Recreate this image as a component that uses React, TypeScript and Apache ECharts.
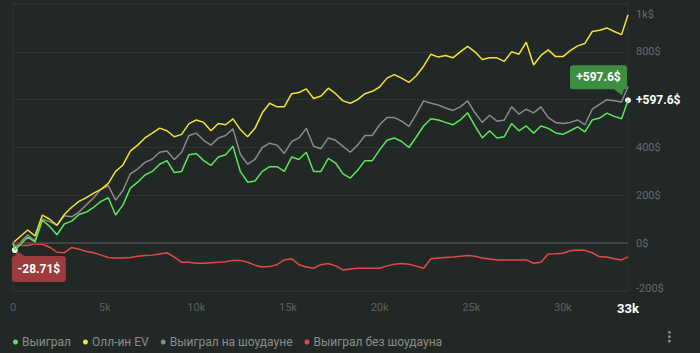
import React, { useEffect, useRef } from "react";
import * as echarts from "echarts";

// x sampling (hands)
const hands: number[] = [0, 100];
for (let k = 2; k <= 83; k++) hands.push(k * 400);
hands.push(33550);

const xMax = 33550;

const won: number[] = [
  0, -28.71, 25, 5, 96, 70, 35, 80, 92, 120,
  130, 150, 175, 190, 118, 160, 230, 255, 285, 300,
  330, 345, 295, 300, 370, 375, 345, 325, 360, 370,
  405, 300, 255, 260, 300, 320, 320, 300, 360, 350,
  380, 300, 300, 355, 335, 290, 272, 305, 345, 345,
  390, 430, 440, 425, 400, 444, 490, 520, 515, 505,
  495, 515, 545, 490, 440, 470, 440, 445, 500, 470,
  490, 460, 490, 480, 461, 455, 470, 486, 465, 515,
  523, 544, 530, 520, 597.6,
];

const showdown: number[] = [
  0, -20, 35, 10, 100, 90, 75, 115, 110, 130,
  160, 190, 225, 240, 180, 220, 290, 310, 338, 352,
  380, 385, 350, 380, 450, 460, 430, 410, 440, 450,
  478, 372, 330, 350, 400, 418, 410, 375, 425, 440,
  480, 405, 395, 440, 430, 405, 380, 410, 450, 450,
  495, 525, 525, 510, 488, 540, 595, 585, 578, 565,
  555, 570, 595, 545, 505, 535, 510, 515, 570, 540,
  560, 545, 570, 525, 505, 500, 505, 515, 495, 560,
  580, 600, 595, 590, 655,
];

const allinEV: number[] = [
  0, 8, 55, 30, 117, 100, 75, 120, 150, 175,
  190, 209, 225, 250, 300, 327, 385, 410, 440, 460,
  481, 470, 445, 455, 500, 515, 505, 470, 500, 495,
  520, 475, 445, 480, 545, 585, 570, 570, 625, 630,
  645, 605, 615, 648, 625, 595, 585, 600, 625, 635,
  653, 690, 705, 690, 672, 700, 740, 790, 778, 785,
  775, 800, 823, 800, 768, 775, 775, 760, 800, 790,
  840, 745, 785, 808, 780, 780, 805, 825, 835, 885,
  890, 900, 885, 872, 955,
];

const nonShowdown: number[] = [
  0, -8.7, -10, -3, -5, -17, -38, -40, -18, -25,
  -35, -40, -50, -60, -62, -62, -60, -55, -52, -50,
  -45, -40, -58, -80, -80, -84, -84, -82, -80, -78,
  -72, -72, -80, -92, -100, -98, -90, -70, -65, -90,
  -100, -105, -90, -85, -95, -112, -108, -105, -105, -105,
  -105, -95, -88, -85, -88, -96, -105, -65, -62, -60,
  -58, -55, -52, -55, -62, -66, -70, -70, -70, -70,
  -70, -84, -80, -45, -44, -42, -32, -29, -30, -40,
  -57, -58, -65, -70, -57.4,
];

const seriesNames = ["Выиграл", "Олл-ин EV", "Выиграл на шоудауне", "Выиграл без шоудауна"];
const seriesColors = ["#5ae85a", "#f3e23c", "#8a8a8a", "#e3484b"];

const finalLabel = "+597.6$";
const minLabel = "-28.71$";

const pair = (vals: number[]) => vals.map((v, i) => [hands[i], v]);

const greenBox =
  "path://M3,0 H54 Q57,0 57,3 V21 Q57,24 54,24 L52,30 L44,24 H3 Q0,24 0,21 V3 Q0,0 3,0 Z";
const redBox =
  "path://M3,5 L5,0 L13,5 H51 Q54,5 54,8 V28 Q54,31 51,31 H3 Q0,31 0,28 V8 Q0,5 3,5 Z";

export default function App() {
  const ref = useRef<HTMLDivElement>(null);
  useEffect(() => {
    if (!ref.current) return;
    const chart = echarts.init(ref.current, undefined, { renderer: "svg" });
    const font = "Roboto, 'Open Sans', sans-serif";
    const lastX = hands[hands.length - 1];
    const lastV = won[won.length - 1];
    const option: any = {
      animation: false,
      backgroundColor: "#222826",
      textStyle: { fontFamily: font },
      grid: {
        left: 13,
        right: 72,
        top: 4,
        bottom: 62,
        show: true,
        borderColor: "#2d3330",
        borderWidth: 1,
        containLabel: false,
        outerBoundsMode: "none",
      },
      legend: {
        data: seriesNames,
        left: 8,
        top: 331,
        icon: "circle",
        itemWidth: 5,
        itemHeight: 5,
        itemGap: 12,
        textStyle: { color: "#8a8e8b", fontSize: 12, fontFamily: font, padding: [0, 0, 0, -1] },
        inactiveColor: "#444",
      },
      xAxis: {
        type: "value",
        min: 0,
        max: xMax,
        interval: 5000,
        axisLine: { show: false, onZero: false },
        axisTick: { show: false },
        splitLine: { show: false },
        axisLabel: {
          color: "#5b605d",
          fontSize: 11,
          margin: 11,
          formatter: (v: number) =>
            v === xMax ? "{b|33k}" : v === 0 ? "0" : v / 1000 + "k",
          rich: {
            b: { color: "#ffffff", fontSize: 13, fontWeight: "bold", fontFamily: font },
          },
        },
      },
      yAxis: {
        type: "value",
        position: "right",
        min: -200,
        max: 1000,
        interval: 200,
        axisLine: { show: false },
        axisTick: { show: false },
        splitLine: { lineStyle: { color: "#2d3330", width: 1 } },
        axisLabel: {
          color: "#646966",
          fontSize: 11,
          margin: 8,
          formatter: (v: number) =>
            v === 1000 ? "{t|1k$}" : v === -200 ? "{m|-200$}" : v === 600 ? "" : v + "$",
          rich: {
            t: { padding: [20, 0, 0, 0], color: "#646966", fontSize: 11, fontFamily: font },
            m: { padding: [0, 0, 6, 0], color: "#646966", fontSize: 11, fontFamily: font },
          },
        },
      },
      series: [
        {
          name: seriesNames[3],
          type: "line",
          data: pair(nonShowdown),
          showSymbol: false,
          symbol: "none",
          color: seriesColors[3],
          lineStyle: { width: 1.5 },
          z: 2,
          markLine: {
            silent: true,
            symbol: "none",
            label: { show: false },
            lineStyle: { color: "#4a504d", type: "solid", width: 1.5 },
            data: [{ yAxis: 0 }],
          },
        },
        {
          name: seriesNames[2],
          type: "line",
          data: pair(showdown),
          showSymbol: false,
          symbol: "none",
          color: seriesColors[2],
          lineStyle: { width: 1.5 },
          z: 3,
        },
        {
          name: seriesNames[1],
          type: "line",
          data: pair(allinEV),
          showSymbol: false,
          symbol: "none",
          color: seriesColors[1],
          lineStyle: { width: 1.5 },
          z: 4,
        },
        {
          name: seriesNames[0],
          type: "line",
          data: pair(won),
          showSymbol: false,
          symbol: "none",
          color: seriesColors[0],
          lineStyle: { width: 1.5 },
          z: 5,
          markPoint: {
            silent: true,
            data: [
              {
                coord: [lastX, lastV],
                symbol: greenBox,
                symbolSize: [57, 30],
                symbolKeepAspect: false,
                symbolOffset: [-29.5, -20],
                itemStyle: { color: "#3e8e42" },
                label: {
                  show: true,
                  position: "inside",
                  offset: [0, -3],
                  formatter: finalLabel,
                  color: "#ffffff",
                  fontSize: 12,
                  fontWeight: "bold",
                  fontFamily: font,
                },
              },
              {
                coord: [hands[1], won[1]],
                symbol: redBox,
                symbolSize: [54, 31],
                symbolKeepAspect: false,
                symbolOffset: [24, 16.5],
                itemStyle: { color: "#9b3b3b" },
                label: {
                  show: true,
                  position: "inside",
                  offset: [0, 2.5],
                  formatter: minLabel,
                  color: "#ffffff",
                  fontSize: 12,
                  fontWeight: "bold",
                  fontFamily: font,
                },
              },
              {
                coord: [lastX, lastV],
                symbol: "circle",
                symbolSize: 6,
                itemStyle: { color: "#ffffff" },
                label: {
                  show: true,
                  position: "right",
                  distance: 5,
                  formatter: finalLabel,
                  color: "#ffffff",
                  fontSize: 12,
                  fontWeight: "bold",
                  fontFamily: font,
                },
              },
              {
                coord: [hands[1], won[1]],
                symbol: "circle",
                symbolSize: 6,
                itemStyle: { color: "#ffffff" },
                label: { show: false },
              },
            ],
          },
        },
      ],
      graphic: [
        {
          type: "group",
          left: 668,
          top: 331,
          children: [
            { type: "circle", shape: { cx: 1.5, cy: 1.5, r: 1.4 }, style: { fill: "#8a8e8b" } },
            { type: "circle", shape: { cx: 1.5, cy: 5.8, r: 1.4 }, style: { fill: "#8a8e8b" } },
            { type: "circle", shape: { cx: 1.5, cy: 10.1, r: 1.4 }, style: { fill: "#8a8e8b" } },
          ],
        },
      ],
    };
    chart.setOption(option);
    return () => chart.dispose();
  }, []);
  return <div ref={ref} style={{ width: 700, height: 353, position: "absolute", left: 0, top: 0 }} />;
}
